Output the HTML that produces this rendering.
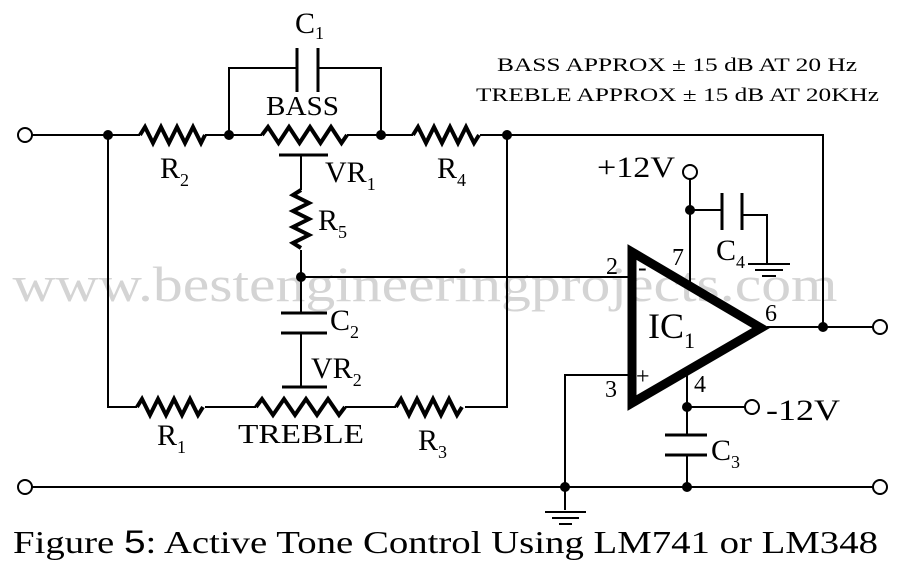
<!DOCTYPE html>
<html><head><style>body{margin:0;background:#fff}svg{display:block}text{font-family:"Liberation Serif","Times New Roman",serif;fill:#000}</style></head><body>
<svg width="900" height="565" viewBox="0 0 900 565">
<text x="425" y="301" font-size="50" fill="#d4d4d4" style="fill:#d4d4d4" text-anchor="middle" textLength="825" lengthAdjust="spacingAndGlyphs">www.bestengineeringprojects.com</text>
<g stroke="#000" stroke-width="2" fill="none">
<path d="M32 135H140M205 135H262M347 135H413M480 135H823V327"/>
<path d="M140 135l5 -8 8 16 8 -16 8 16 8 -16 8 16 8 -16 8 16 4 -8" stroke-width="4"/>
<path d="M262 135l6 -8 10.5 16 10.5 -16 10.5 16 10.5 -16 10.5 16 10.5 -16 10.5 16 5.5 -8" stroke-width="4"/>
<path d="M413 135l5 -8 8 16 8 -16 8 16 8 -16 8 16 8 -16 8 16 5 -8" stroke-width="4"/>
<path d="M229 135V68H297M318 68H381V135"/>
<path d="M297 48V92M318 48V92" stroke-width="3"/>
<path d="M279 155H328" stroke-width="3"/>
<path d="M301 155V190M301 250V277H628"/>
<path d="M301 190l-8 5 16 8 -16 8 16 8 -16 8 16 8 -16 8 8 5" stroke-width="4"/>
<path d="M108 135V407H137M205 407H256M345 407H396M465 407H507V135"/>
<path d="M137 407l5 -8 8 16 8 -16 8 16 8 -16 8 16 8 -16 8 16 5 -8" stroke-width="4"/>
<path d="M256 407l6 -8 11 16 11 -16 11 16 11 -16 11 16 11 -16 11 16 6 -8" stroke-width="4"/>
<path d="M396 407l5 -8 8 16 8 -16 8 16 8 -16 8 16 8 -16 8 16 5 -8" stroke-width="4"/>
<path d="M301 277V313M301 333V387"/>
<path d="M281 313H327M281 333H327M282 387H327" stroke-width="3"/>
<path d="M32 487H873"/>
<polygon points="632,252 632,403 761,328" stroke-width="9" stroke-linejoin="miter"/>
<path d="M767 327H873"/>
<path d="M690 179V284M690 210H722M742 215H767V263"/>
<path d="M722 193V230M742 193V230" stroke-width="3"/>
<path d="M748 264H790M755 270H783M762 276H776"/>
<path d="M628 375H565V510M545 512H586M552 518H579M559 524H572"/>
<path d="M687 370V435M687 455V487M687 407H745"/>
<path d="M665 435H707M665 455H707" stroke-width="3"/>
</g>
<g fill="#fff" stroke="#000" stroke-width="2">
<circle cx="25" cy="135" r="7"/><circle cx="25" cy="487" r="7"/>
<circle cx="880" cy="327" r="7"/><circle cx="880" cy="487" r="7"/>
<circle cx="690" cy="172" r="7"/><circle cx="752" cy="407" r="7"/>
</g>
<g fill="#000">
<circle cx="108" cy="135" r="5"/><circle cx="229" cy="135" r="5"/><circle cx="381" cy="135" r="5"/><circle cx="507" cy="135" r="5"/>
<circle cx="301" cy="277" r="5"/><circle cx="690" cy="210" r="5"/><circle cx="823" cy="327" r="5"/>
<circle cx="687" cy="407" r="5"/><circle cx="687" cy="487" r="5"/><circle cx="565" cy="487" r="5"/>
</g>
<g font-size="30">
<text x="295" y="33">C<tspan font-size="18" dy="6">1</tspan></text>
<text x="266" y="115" font-size="27" textLength="73" lengthAdjust="spacingAndGlyphs">BASS</text>
<text x="160" y="178">R<tspan font-size="18" dy="8">2</tspan></text>
<text x="325" y="182">VR<tspan font-size="18" dy="8">1</tspan></text>
<text x="437" y="178">R<tspan font-size="18" dy="8">4</tspan></text>
<text x="318" y="230">R<tspan font-size="18" dy="8">5</tspan></text>
<text x="330" y="330">C<tspan font-size="18" dy="8">2</tspan></text>
<text x="311" y="378">VR<tspan font-size="18" dy="8">2</tspan></text>
<text x="157" y="445">R<tspan font-size="18" dy="8">1</tspan></text>
<text x="238" y="443" font-size="27" textLength="126" lengthAdjust="spacingAndGlyphs">TREBLE</text>
<text x="418" y="450">R<tspan font-size="18" dy="8">3</tspan></text>
<text x="597" y="177" textLength="78" lengthAdjust="spacingAndGlyphs">+12V</text>
<text x="716" y="260">C<tspan font-size="18" dy="8">4</tspan></text>
<text x="648" y="338" font-size="36">IC<tspan font-size="22" dy="10">1</tspan></text>
<text x="766" y="420" textLength="74" lengthAdjust="spacingAndGlyphs">-12V</text>
<text x="711" y="460">C<tspan font-size="18" dy="8">3</tspan></text>
</g>
<g font-size="24">
<text x="606" y="274">2</text><text x="672" y="265">7</text><text x="765" y="321">6</text>
<text x="605" y="397">3</text><text x="694" y="392">4</text>
<text x="638" y="276" font-size="26">-</text><text x="636" y="384" font-size="24">+</text>
</g>
<text x="497" y="71" font-size="19" textLength="360" lengthAdjust="spacingAndGlyphs">BASS APPROX ± 15 dB AT 20 Hz</text>
<text x="476" y="101" font-size="19" textLength="403" lengthAdjust="spacingAndGlyphs">TREBLE APPROX ± 15 dB AT 20KHz</text>
<text x="13" y="553" font-size="32" textLength="865" lengthAdjust="spacingAndGlyphs">Figure <tspan font-family="Liberation Sans, sans-serif">5</tspan>: Active Tone Control Using LM741 or LM348</text>
</svg>
</body></html>
